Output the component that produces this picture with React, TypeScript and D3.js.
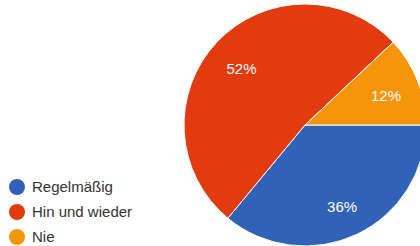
import { useEffect, useRef } from 'react'
import * as d3 from 'd3'

const CATEGORIES = ['Regelmäßig', 'Hin und wieder', 'Nie']
const VALUES = [36, 52, 12]
const COLORS = ['#3062b7', '#e23b10', '#f6940b']

const W = 420
const H = 246
const CX = 305
const CY = 125
const R = 121

export default function App() {
  const svgRef = useRef<SVGSVGElement>(null)

  useEffect(() => {
    const svg = d3.select(svgRef.current)
    svg.selectAll('*').remove()

    const data = CATEGORIES.map((c, i) => ({ c, v: VALUES[i], color: COLORS[i] }))

    const pie = d3.pie<any>()
      .value(d => d.v)
      .sort(null)
      .startAngle(Math.PI / 2)
      .endAngle(Math.PI / 2 + 2 * Math.PI)

    const arc = d3.arc<any>().innerRadius(0).outerRadius(R)
    const labelArc = d3.arc<any>().innerRadius(R * 0.72).outerRadius(R * 0.72)

    const g = svg.append('g').attr('transform', `translate(${CX},${CY})`)
    const arcs = pie(data)

    g.selectAll('path.slice')
      .data(arcs)
      .join('path')
      .attr('class', 'slice')
      .attr('d', arc)
      .attr('fill', d => d.data.color)
      .attr('stroke', '#fff')
      .attr('stroke-width', 1)

    g.selectAll('text.lbl')
      .data(arcs)
      .join('text')
      .attr('class', 'lbl')
      .attr('transform', d => `translate(${labelArc.centroid(d)})`)
      .attr('text-anchor', 'middle')
      .attr('dy', '0.55em')
      .attr('font-family', 'Arial, "Liberation Sans", sans-serif')
      .attr('font-size', 15)
      .attr('fill', '#fff')
      .text(d => `${d.data.v}%`)

    // Legend
    const leg = svg.append('g').attr('transform', 'translate(17,187)')
    const item = leg.selectAll('g')
      .data(data)
      .join('g')
      .attr('transform', (_, i) => `translate(0,${i * 25})`)
    item.append('circle').attr('r', 8).attr('fill', d => d.color)
    item.append('text')
      .attr('x', 15)
      .attr('dy', '0.36em')
      .attr('font-family', 'Arial, "Liberation Sans", sans-serif')
      .attr('font-size', 15)
      .attr('fill', '#333')
      .text(d => d.c)
  }, [])

  return (
    <svg
      ref={svgRef}
      width={W}
      height={H}
      style={{ position: 'absolute', left: 0, top: 0, background: '#fff' }}
    />
  )
}
